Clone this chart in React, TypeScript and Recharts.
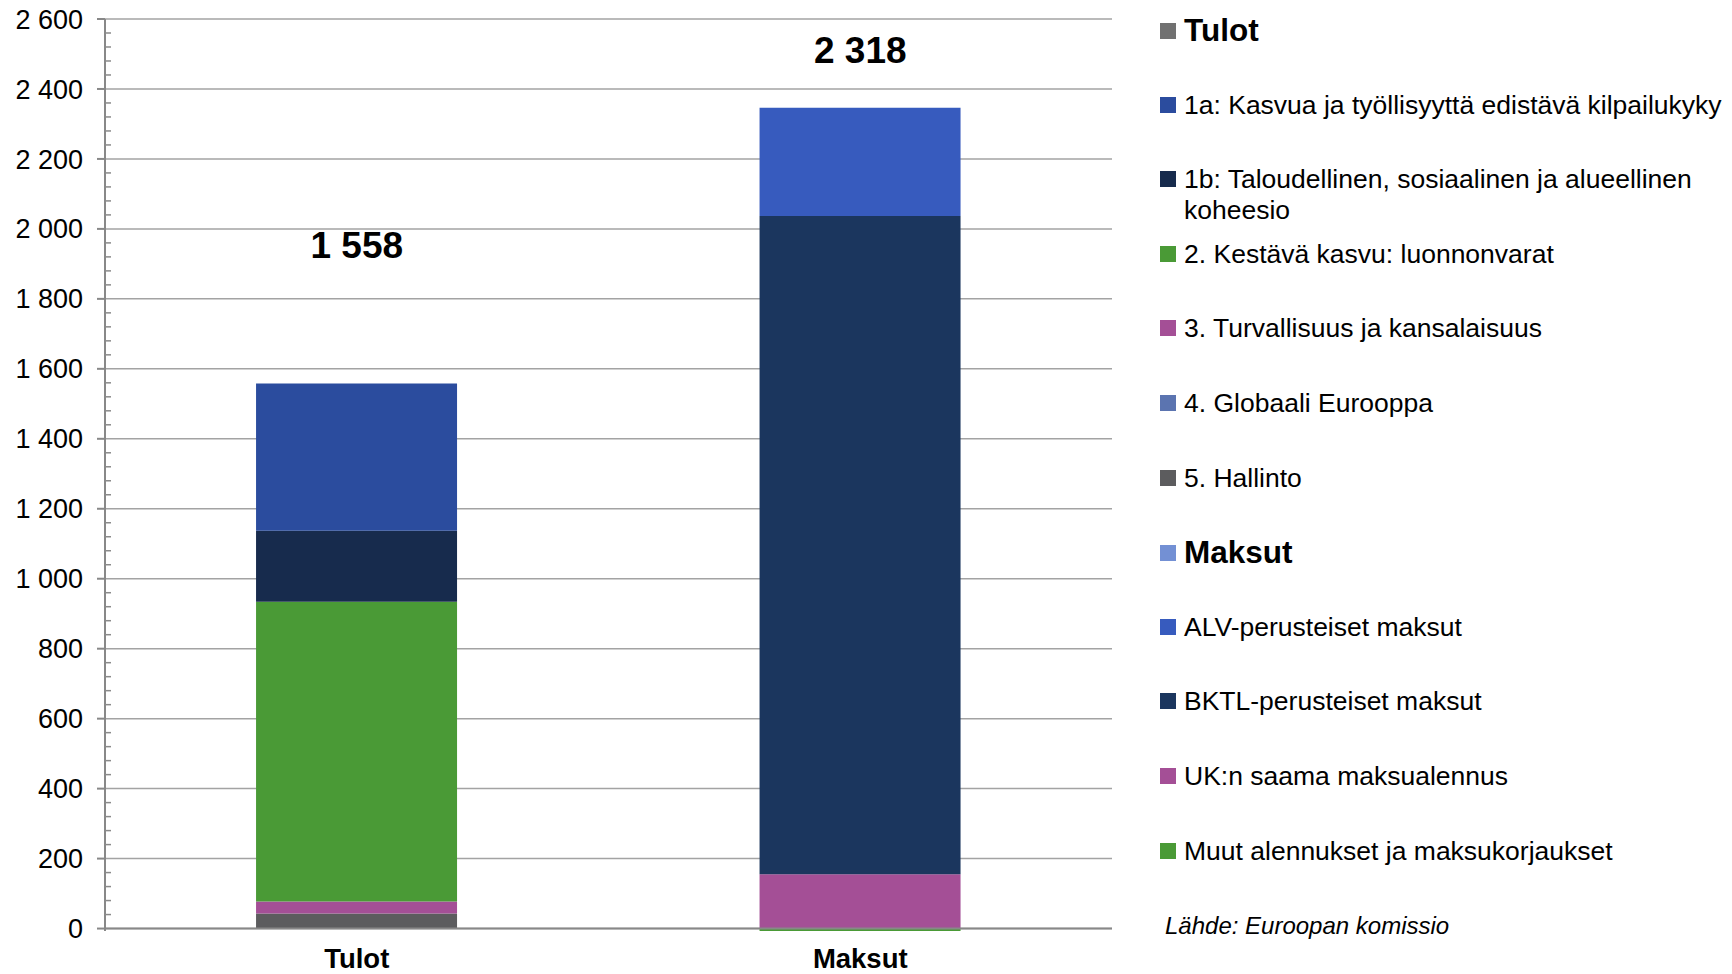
import { Bar, BarChart, CartesianGrid, Legend, ReferenceDot, ReferenceLine, XAxis, YAxis } from "recharts";

const CATEGORIES = ["Tulot", "Maksut"];

// tulot (EU-menot Suomeen), milj. euroa
const V_1A = [421, 0];
const V_1B = [203, 0];
const V_2 = [857, 0];
const V_3 = [34, 0];
const V_4 = [0, 0];
const V_5 = [43, 0];
// maksut EU:lle
const V_ALV = [0, 309];
const V_BKTL = [0, 1882];
const V_UK = [0, 155];
const V_MUUT = [0, -7];

const TOTAL_LABELS = ["1 558", "2 318"];
const TOTAL_LABEL_AT = [1954, 2511];

const Y_TICKS = [0, 200, 400, 600, 800, 1000, 1200, 1400, 1600, 1800, 2000, 2200, 2400, 2600];
const MINOR_STEP = 40;
const ALL_TICKS = Array.from({ length: 2600 / MINOR_STEP + 1 }, (_, i) => i * MINOR_STEP);

const SERIES = [
  { key: "h5", name: "5. Hallinto", color: "#5C5C5E", values: V_5 },
  { key: "h3", name: "3. Turvallisuus ja kansalaisuus", color: "#A44F96", values: V_3 },
  { key: "h2", name: "2. Kestävä kasvu: luonnonvarat", color: "#4A9A36", values: V_2 },
  { key: "h1b", name: "1b: Taloudellinen, sosiaalinen ja alueellinen koheesio", color: "#172B4D", values: V_1B },
  { key: "h1a", name: "1a: Kasvua ja työllisyyttä edistävä kilpailukyky", color: "#2B4C9E", values: V_1A },
  { key: "h4", name: "4. Globaali Eurooppa", color: "#5B74B0", values: V_4 },
  { key: "muut", name: "Muut alennukset ja maksukorjaukset", color: "#4A9A36", values: V_MUUT },
  { key: "uk", name: "UK:n saama maksualennus", color: "#A44F96", values: V_UK },
  { key: "bktl", name: "BKTL-perusteiset maksut", color: "#1B365E", values: V_BKTL },
  { key: "alv", name: "ALV-perusteiset maksut", color: "#375BBE", values: V_ALV },
];

const LEGEND_ROWS = [
  { name: "Tulot", color: "#717171", head: true },
  ...["h1a", "h1b", "h2", "h3", "h4", "h5"].map((k) => SERIES.find((s) => s.key === k)!),
  { name: "Maksut", color: "#7390D4", head: true },
  ...["alv", "bktl", "uk", "muut"].map((k) => SERIES.find((s) => s.key === k)!),
];

const data = CATEGORIES.map((c, i) => {
  const row: Record<string, string | number> = { cat: c };
  SERIES.forEach((s) => (row[s.key] = s.values[i]));
  return row;
});

const Y_MIN = Math.min(0, ...CATEGORIES.map((_, i) => SERIES.reduce((a, s) => a + Math.min(0, s.values[i]), 0)));

const FONT = '"Liberation Sans", Arial, sans-serif';
const fmt = (v: number) => String(v).replace(/\B(?=(\d{3})+(?!\d))/g, " ");

const TICK_MARGIN = 14;
const MAJOR_LEN = 8;
const MINOR_LEN = 6;

// major ticks point outward with a label, minor ticks point into the plot
function YTick(props: any) {
  const { x, y, payload } = props;
  const axisX = x + TICK_MARGIN + MAJOR_LEN;
  if (Y_TICKS.includes(payload.value)) {
    return (
      <g>
        <line x1={axisX - MAJOR_LEN} x2={axisX} y1={y} y2={y} stroke="#888" strokeWidth={2} />
        <text x={x} y={y} dy="0.355em" textAnchor="end" fill="#000" fontSize={27} fontFamily={FONT}>
          {fmt(payload.value)}
        </text>
      </g>
    );
  }
  return <line x1={axisX} x2={axisX + MINOR_LEN} y1={y} y2={y} stroke="#8a8a8a" strokeWidth={1.5} />;
}

function LegendBox() {
  const rowH = 74.6;
  return (
    <div style={{ fontFamily: FONT, color: "#000" }}>
      {LEGEND_ROWS.map((r: any) => (
        <div key={r.name} style={{ height: rowH, display: "flex", alignItems: "flex-start" }}>
          <span
            style={{ width: 16, height: 16, background: r.color, marginTop: r.head ? 8 : 7, marginRight: 8, flex: "0 0 16px" }}
          />
          <span
            style={{
              fontSize: r.head ? 31.5 : 26.5,
              fontWeight: r.head ? "bold" : "normal",
              lineHeight: "31px",
            }}
          >
            {r.name}
          </span>
        </div>
      ))}
      <div style={{ fontSize: 24, fontStyle: "italic", lineHeight: "31px", paddingLeft: 5 }}>Lähde: Euroopan komissio</div>
    </div>
  );
}

export default function App() {
  return (
    <div style={{ position: "absolute", left: 0, top: 0, background: "#fff" }}>
      <BarChart
        width={1732}
        height={974}
        data={data}
        stackOffset="sign"
        barCategoryGap="30%"
        margin={{ top: 19, right: 620, bottom: 0, left: 0 }}
      >
        <CartesianGrid horizontal horizontalValues={Y_TICKS} vertical={false} stroke="#a3a3a3" strokeWidth={1.5} />
        <XAxis
          dataKey="cat"
          height={43}
          axisLine={false}
          tickLine={false}
          tickSize={0}
          tickMargin={17}
          tick={{ fill: "#000", fontSize: 27.5, fontWeight: "bold", fontFamily: FONT }}
        />
        <XAxis xAxisId="top" dataKey="cat" orientation="top" height={0} tick={false} tickLine={false} stroke="#888" strokeWidth={2} />
        <YAxis
          domain={[Y_MIN, 2600]}
          allowDataOverflow
          ticks={ALL_TICKS}
          interval={0}
          width={105}
          tickSize={MAJOR_LEN}
          tickMargin={TICK_MARGIN}
          tickLine={false}
          stroke="#888"
          strokeWidth={2}
          tick={<YTick />}
        />
        <YAxis yAxisId="border" orientation="right" width={0} tick={false} tickLine={false} stroke="#888" strokeWidth={2} />
        {SERIES.map((s) => (
          <Bar key={s.key} dataKey={s.key} name={s.name} stackId="a" fill={s.color} isAnimationActive={false} />
        ))}
        <ReferenceLine y={0} stroke="#888" strokeWidth={2} />
        {CATEGORIES.map((c, i) => (
          <ReferenceDot
            key={c}
            x={c}
            y={TOTAL_LABEL_AT[i]}
            r={0}
            fill="none"
            stroke="none"
            label={{ value: TOTAL_LABELS[i], position: "center", fill: "#000", fontSize: 37, fontWeight: "bold", fontFamily: FONT }}
          />
        ))}
        <Legend
          layout="vertical"
          align="center"
          verticalAlign="middle"
          wrapperStyle={{ left: 1160, top: 15, width: 572 }}
          content={() => <LegendBox />}
        />
      </BarChart>
    </div>
  );
}
